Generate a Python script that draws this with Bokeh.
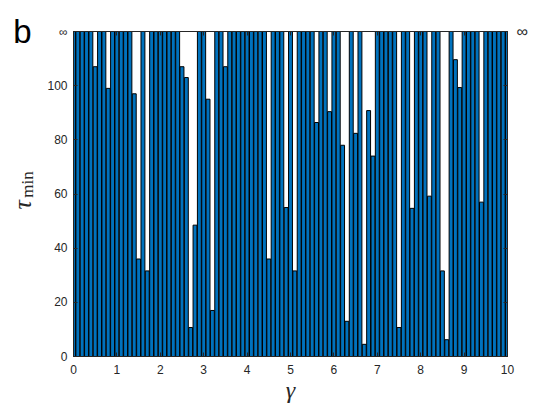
import math
from bokeh.plotting import figure
from bokeh.models import (ColumnDataSource, Range1d, LinearAxis, FixedTicker)
from bokeh.embed import file_html
from bokeh.resources import INLINE

I = math.inf
# gamma values (0.0 ... 10.0, step 0.1)
gamma = [round(0.1 * i, 1) for i in range(101)]
# tau_min for each gamma (inf = never reached, drawn up to the axis top)
tau_min = [
    I, I, I, I, I, 107, I, I, 99, I,
    I, I, I, I, 97, 36, I, 31.6, I, I,
    I, I, I, I, I, 107, 103, 10.7, 48.5, I,
    I, 95, 17, I, I, 107, I, I, I, I,
    I, I, I, I, I, 36, I, I, I, 55,
    I, 31.6, I, I, I, I, 86.4, I, I, 90.4,
    I, I, 78, 13, I, 82.4, I, 4.5, 90.8, 74,
    I, I, I, I, I, 10.7, I, I, 54.7, I,
    I, I, 59.2, I, I, 31.6, 6.2, I, 109.6, 99.3,
    I, I, I, I, 57, I, I, I, I, I,
    I,
]
y_ticks = [0, 20, 40, 60, 80, 100, 120]
x_ticks = [0, 1, 2, 3, 4, 5, 6, 7, 8, 9, 10]
Y_TOP = 120

top = [Y_TOP if math.isinf(v) else v for v in tau_min]
src = ColumnDataSource(dict(x=gamma, top=top))

AX = "#262626"
p = figure(width=544, height=404, frame_width=434, frame_height=325,
           output_backend="svg", toolbar_location=None,
           x_range=Range1d(0, 10), y_range=Range1d(0, Y_TOP),
           min_border_left=73, min_border_right=37,
           min_border_top=31, min_border_bottom=48)
p.background_fill_color = "white"
p.border_fill_color = "white"
p.outline_line_color = AX
p.outline_line_width = 1
p.grid.visible = False

p.vbar(x="x", top="top", bottom=0, width=0.09, source=src,
       fill_color="#0072BD", line_color="black", line_width=1)

def style(ax):
    ax.axis_line_color = AX
    ax.major_tick_line_color = AX
    ax.major_tick_in = 4
    ax.major_tick_out = 0
    ax.minor_tick_line_color = None
    ax.minor_tick_out = 0
    ax.major_label_text_font = "Liberation Sans"
    ax.major_label_text_font_size = "12px"
    ax.major_label_text_color = AX

def text_axis(tick, text, font, size, standoff, color=AX, italic=False,
              orientation="horizontal"):
    """A left-side axis without rule or ticks that only shows one label."""
    ax = LinearAxis(ticker=FixedTicker(ticks=[tick]))
    ax.axis_line_color = None
    ax.major_tick_line_color = None
    ax.minor_tick_line_color = None
    ax.major_tick_in = 0
    ax.major_tick_out = 0
    ax.minor_tick_in = 0
    ax.minor_tick_out = 0
    ax.major_label_standoff = standoff
    ax.major_label_overrides = {tick: text}
    ax.major_label_text_font = font
    ax.major_label_text_font_size = size
    ax.major_label_text_color = color
    if italic:
        ax.major_label_text_font_style = "italic"
    ax.major_label_orientation = orientation
    p.add_layout(ax, "left")
    return ax

# bottom axis with gamma label
xa = p.xaxis[0]
xa.ticker = FixedTicker(ticks=x_ticks)
style(xa)
xa.major_label_standoff = 8
xa.axis_label = "γ"
xa.axis_label_text_font = "Liberation Serif"
xa.axis_label_text_font_style = "italic"
xa.axis_label_text_font_size = "24px"
xa.axis_label_text_color = AX
xa.axis_label_standoff = 0

# left axis (ticks)
ya = p.yaxis[0]
ya.ticker = FixedTicker(ticks=y_ticks)
style(ya)
ya.major_label_standoff = 6
ya.major_label_overrides = {Y_TOP: "∞"}

# right axis (ticks, only the infinity label)
ra = LinearAxis(ticker=FixedTicker(ticks=y_ticks))
style(ra)
ra.major_label_standoff = 9
ra.major_label_text_font_size = "16px"
ra.major_label_overrides = {t: ("∞" if t == Y_TOP else "") for t in y_ticks}
p.add_layout(ra, "right")

# top axis (ticks only)
ta = LinearAxis(ticker=FixedTicker(ticks=x_ticks))
style(ta)
ta.major_label_text_font_size = "0px"
ta.major_label_standoff = 0
ta.major_label_overrides = {t: "" for t in x_ticks}
p.add_layout(ta, "above")

# panel letter, then the y label (tau with subscript "min"), stacked left of the ticks
text_axis(Y_TOP, "b", "Liberation Sans", "33px", 13, color="black")
text_axis(56, "τ", "Liberation Serif", "26px", -27, italic=True, orientation="vertical")
text_axis(63.5, "min", "Liberation Serif", "17px", -32, orientation="vertical")

open("out.html", "w").write(file_html(p, INLINE))
